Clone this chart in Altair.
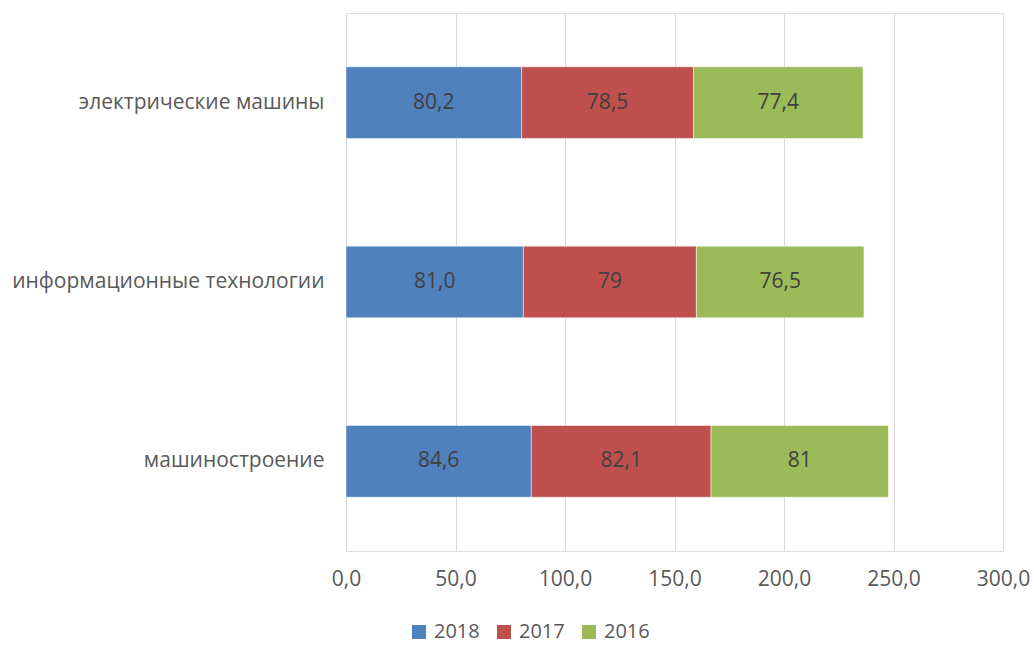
import altair as alt
import pandas as pd

categories = ["электрические машины", "информационные технологии", "машиностроение"]
years = ["2018", "2017", "2016"]
values_2018 = [80.2, 81.0, 84.6]
values_2017 = [78.5, 79.0, 82.1]
values_2016 = [77.4, 76.5, 81.0]
labels_2018 = ["80,2", "81,0", "84,6"]
labels_2017 = ["78,5", "79", "82,1"]
labels_2016 = ["77,4", "76,5", "81"]
colors = ["#4F81BD", "#C0504D", "#9BBB59"]

rows = []
for yi, (yr, vals, labs) in enumerate(zip(years, [values_2018, values_2017, values_2016],
                                           [labels_2018, labels_2017, labels_2016])):
    for cat, v, lab in zip(categories, vals, labs):
        rows.append({"category": cat, "year": yr, "value": v, "label": lab, "order": yi})
df = pd.DataFrame(rows)

FONT = "Open Sans"
FS = 21
TXT = "#595959"

base = alt.Chart(df).transform_stack(
    stack="value", groupby=["category"], as_=["x0", "x1"],
    sort=[alt.SortField("order", order="ascending")]
).transform_calculate(mid="(datum.x0 + datum.x1) / 2")

y_enc = alt.Y("category:N", sort=categories, title=None,
              scale=alt.Scale(paddingInner=0.6, paddingOuter=0.3),
              axis=alt.Axis(labelFont=FONT, labelFontSize=FS, labelColor=TXT,
                            ticks=False, domain=False, labelPadding=22, labelLimit=400))

bars = base.mark_bar(stroke="white", strokeWidth=0.5).encode(
    x=alt.X("x0:Q", title=None,
            scale=alt.Scale(domain=[0, 300], nice=False),
            axis=alt.Axis(values=[0, 50, 100, 150, 200, 250, 300],
                          labelExpr="replace(format(datum.value, '.1f'), '.', ',')",
                          labelFont=FONT, labelFontSize=FS, labelColor=TXT,
                          ticks=False, domain=False, grid=True, gridColor="#D9D9D9",
                          labelPadding=17, labelFlush=False)),
    x2="x1:Q",
    y=y_enc,
    color=alt.Color("year:N", sort=years,
                    scale=alt.Scale(domain=years, range=colors),
                    legend=alt.Legend(title=None, orient="none", direction="horizontal",
                                      legendX=63, legendY=609, padding=0,
                                      symbolType="square", symbolSize=196,
                                      symbolStrokeWidth=0,
                                      labelFont=FONT, labelFontSize=20, labelColor=TXT,
                                      columnPadding=14, labelOffset=5)),
)

texts = base.mark_text(font=FONT, fontSize=FS, color="#404040").encode(
    x=alt.X("mid:Q"),
    y=alt.Y("category:N", sort=categories),
    text="label:N",
)

chart = alt.layer(bars, texts).properties(
    width=657, height=538,
    autosize=alt.AutoSizeParams(type="none"),
    padding={"left": 346, "top": 13, "right": 31, "bottom": 94},
).configure_view(stroke=None).configure(background="white")

chart.save("out.html", embed_options={"renderer": "svg", "actions": False})
